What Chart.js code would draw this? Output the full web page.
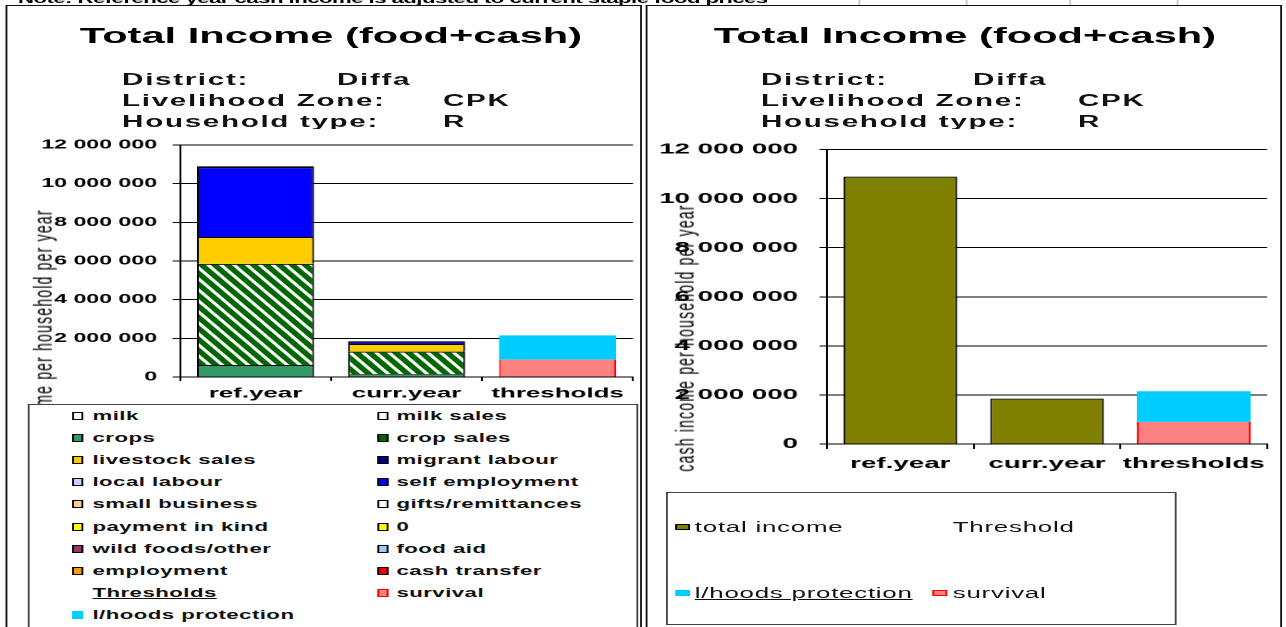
<!DOCTYPE html>
<html>
<head>
<meta charset="utf-8">
<title>Total Income (food+cash)</title>
<script src="https://cdn.jsdelivr.net/npm/chart.js@4.4.1/dist/chart.umd.min.js"></script>
<style>
  html, body { margin: 0; padding: 0; background: #fff; overflow: hidden; }
  body { width: 1286px; height: 627px; position: relative; font-family: 'Liberation Sans', Arial, sans-serif; color: #000; }
  /* the screenshot is stretched sideways, so the page is laid out narrow and widened */
  #stage { position: absolute; left: 0; top: 0; width: 695px; height: 627px; transform: scaleX(1.85); transform-origin: 0 0; }
  .abs { position: absolute; white-space: nowrap; }
  .panel { position: absolute; top: 5px; height: 640px; box-sizing: border-box; border: 1px solid #111; border-top-width: 1.5px; background: #fff; }
  .cell { position: absolute; top: 0; width: 0.55px; height: 5px; background: #c8c8c8; }
  .note { left: 9.7px; top: -7px; font-size: 12px; line-height: 12px; font-weight: bold; letter-spacing: -0.3px; }
  .title { top: 25px; font-size: 22.5px; font-weight: bold; line-height: 22px; transform: translateX(-50%); }
  .hdr { font-size: 16px; font-weight: bold; line-height: 21px; letter-spacing: 0.9px; color: #111; }
  .chartbox { position: absolute; background: #fff; }
  .ytitle { position: absolute; font-size: 14px; line-height: 16px; letter-spacing: 1.2px; white-space: nowrap; transform: translate(-50%, -50%) rotate(-90deg); }
  .legend { position: absolute; box-sizing: border-box; border: 1px solid #444; background: #fff; }
  .sw { position: absolute; box-sizing: border-box; }
  .lt { position: absolute; white-space: nowrap; }
  .left-lg .lt { font-size: 12px; line-height: 12px; font-weight: bold; letter-spacing: 0.25px; color: #111; }
  .right-lg .lt { font-size: 14px; line-height: 16px; letter-spacing: 0.4px; color: #111; }
  .u { text-decoration: underline; }
</style>
</head>
<body>
<div id="stage">
  <div class="abs note">Note: Reference year cash income is adjusted to current staple food prices</div>
  <div class="cell" style="left:463.8px"></div>
  <div class="cell" style="left:521.6px"></div>
  <div class="cell" style="left:578.4px"></div>
  <div class="cell" style="left:636.2px"></div>

  <div class="panel" style="left:3px;width:343.5px"></div>
  <div class="panel" style="left:348.6px;width:344.9px"></div>

  <div class="abs title" style="left:178.9px">Total Income (food+cash)</div>
  <div class="abs hdr" style="left:66px;top:69px">District:</div>
  <div class="abs hdr" style="left:182.2px;top:69px">Diffa</div>
  <div class="abs hdr" style="left:66px;top:90px">Livelihood Zone:</div>
  <div class="abs hdr" style="left:239.5px;top:90px">CPK</div>
  <div class="abs hdr" style="left:66px;top:111px">Household type:</div>
  <div class="abs hdr" style="left:239.5px;top:111px">R</div>

  <div class="abs title" style="left:521.6px">Total Income (food+cash)</div>
  <div class="abs hdr" style="left:411.4px;top:69px">District:</div>
  <div class="abs hdr" style="left:526px;top:69px">Diffa</div>
  <div class="abs hdr" style="left:411.4px;top:90px">Livelihood Zone:</div>
  <div class="abs hdr" style="left:582.7px;top:90px">CPK</div>
  <div class="abs hdr" style="left:411.4px;top:111px">Household type:</div>
  <div class="abs hdr" style="left:582.7px;top:111px">R</div>

  <div class="chartbox" style="left:12px;top:129px;width:332px;height:281px"><canvas id="foodCash"></canvas></div>
  <div class="chartbox" style="left:355px;top:129px;width:335px;height:351px"><canvas id="cashOnly"></canvas></div>

  <div class="ytitle" style="left:23.2px;top:343px">cash income per household per year</div>
  <div class="ytitle" style="left:370.3px;top:338px">cash income per household per year</div>

  <div class="legend left-lg" id="legendLeft" style="left:14.6px;top:404px;width:330px;height:240px"></div>
  <div class="legend right-lg" id="legendRight" style="left:359.5px;top:492px;width:276.2px;height:133px"></div>
</div>

<script>
const categories = ['ref.year', 'curr.year', 'thresholds'];

// income sources, stacked bottom to top
const milk = [0, 0, 0];
const milkSales = [0, 0, 0];
const crops = [620000, 140000, 0];
const cropSales = [5230000, 1170000, 0];
const livestockSales = [1390000, 400000, 0];
const migrantLabour = [0, 0, 0];
const localLabour = [0, 0, 0];
const selfEmployment = [3660000, 140000, 0];
const smallBusiness = [0, 0, 0];
const giftsRemittances = [0, 0, 0];
const paymentInKind = [0, 0, 0];
const zeroSeries = [0, 0, 0];
const wildFoods = [0, 0, 0];
const foodAid = [0, 0, 0];
const employment = [0, 0, 0];
const cashTransfer = [0, 0, 0];

// thresholds
const survival = [0, 0, 900000];
const livelihoodsProtection = [0, 0, 1250000];

// right chart
const totalIncome = [10900000, 1850000, 0];

const yMax = 12000000;
const yStep = 2000000;

const fills = {
  'milk': '#ffffff',
  'milk sales': '#ffffff',
  'crops': '#339966',
  'crop sales': '#006600',
  'livestock sales': '#ffcc00',
  'migrant labour': '#000080',
  'local labour': '#ccccff',
  'self employment': '#0000ff',
  'small business': '#ffcc99',
  'gifts/remittances': '#ffffff',
  'payment in kind': '#ffff00',
  '0': '#ffff00',
  'wild foods/other': '#993366',
  'food aid': '#99ccff',
  'employment': '#ff9900',
  'cash transfer': '#ee0000',
  'survival': '#ff8080',
  'l/hoods protection': '#00ccff',
  'total income': '#808000'
};

const sources = [
  ['milk', milk],
  ['milk sales', milkSales],
  ['crops', crops],
  ['crop sales', cropSales],
  ['livestock sales', livestockSales],
  ['migrant labour', migrantLabour],
  ['local labour', localLabour],
  ['self employment', selfEmployment],
  ['small business', smallBusiness],
  ['gifts/remittances', giftsRemittances],
  ['payment in kind', paymentInKind],
  ['0', zeroSeries],
  ['wild foods/other', wildFoods],
  ['food aid', foodAid],
  ['employment', employment],
  ['cash transfer', cashTransfer]
];

Chart.defaults.font.family = "'Liberation Sans', Arial, sans-serif";

// dark green with white diagonal stripes, like the crop sales fill
function hatch() {
  const w = 7, h = 11, k = 2;
  const c = document.createElement('canvas');
  c.width = w * k;
  c.height = h * k;
  const g = c.getContext('2d');
  g.scale(k, k);
  g.fillStyle = '#006600';
  g.fillRect(0, 0, w, h);
  g.strokeStyle = '#ffffff';
  g.lineWidth = 2.2;
  for (const x0 of [-w, 0, w]) {
    g.beginPath();
    g.moveTo(x0 - w, -h);
    g.lineTo(x0 + 2 * w, 2 * h);
    g.stroke();
  }
  const p = g.createPattern(c, 'repeat');
  p.setTransform(new DOMMatrix().scale(1 / k));
  return p;
}

const fmt = (v) => String(v).replace(/\B(?=(\d{3})+(?!\d))/g, ' ');

function thresholdSets() {
  return [
    {
      label: 'survival',
      data: survival,
      backgroundColor: fills['survival'],
      borderColor: '#ff0000',
      borderWidth: { top: 0, left: 1, right: 1, bottom: 0 }
    },
    {
      label: 'l/hoods protection',
      data: livelihoodsProtection,
      backgroundColor: fills['l/hoods protection'],
      borderWidth: 0
    }
  ];
}

function axes(o) {
  return {
    x: {
      stacked: true,
      grid: { offset: true, drawOnChartArea: false, color: '#000', tickLength: o.xTick },
      border: { color: '#000', width: 1 },
      ticks: { color: '#000', font: { size: o.xFont, weight: 'bold' }, padding: o.xPad, maxRotation: 0 },
      afterFit: (s) => { s.height = o.xHeight; }
    },
    y: {
      stacked: true,
      min: 0,
      max: yMax,
      grid: { color: '#000', tickLength: 4 },
      border: { color: '#000', width: 1 },
      ticks: { stepSize: yStep, color: '#000', font: { size: o.yFont, weight: 'bold' }, padding: o.yPad, callback: fmt },
      afterFit: (s) => { s.width = o.yWidth; }
    }
  };
}

function makeChart(id, datasets, o) {
  return new Chart(document.getElementById(id), {
    type: 'bar',
    data: { labels: categories, datasets: datasets },
    options: {
      responsive: true,
      maintainAspectRatio: false,
      animation: false,
      devicePixelRatio: 2,
      datasets: { bar: { barPercentage: 0.775, categoryPercentage: 1 } },
      layout: { padding: { top: o.padTop, right: o.padRight, left: 0, bottom: 0 } },
      plugins: { legend: { display: false }, tooltip: { enabled: false }, title: { display: false } },
      scales: axes(o)
    }
  });
}

const stripes = hatch();
const leftSets = sources.map(([label, data]) => ({
  label: label,
  data: data,
  backgroundColor: label === 'crop sales' ? stripes : fills[label],
  borderColor: '#000',
  borderWidth: label === 'self employment' ? { top: 2, left: 1, right: 1, bottom: 0 } : 1
})).concat(thresholdSets());

makeChart('foodCash', leftSets, {
  padTop: 16, padRight: 1.8, yWidth: 85.3, xHeight: 33,
  xFont: 14, xTick: 4, xPad: 4, yFont: 12.5, yPad: 8.4
});

const rightSets = [{
  label: 'total income',
  data: totalIncome,
  backgroundColor: fills['total income'],
  borderColor: '#000',
  borderWidth: 1
}].concat(thresholdSets());

makeChart('cashOnly', rightSets, {
  padTop: 17, padRight: 2.4, yWidth: 92, xHeight: 36,
  xFont: 15, xTick: 5, xPad: 6, yFont: 15, yPad: 11.6
});

// html legends
function addEntry(box, sx, tx, cy, label, swatch, o) {
  if (swatch) {
    const s = document.createElement('div');
    s.className = 'sw';
    s.style.left = sx + 'px';
    s.style.top = (cy - o.swH / 2) + 'px';
    s.style.width = o.swW + 'px';
    s.style.height = o.swH + 'px';
    s.style.background = swatch.fill;
    s.style.border = swatch.border ? '1px solid ' + swatch.border : 'none';
    box.appendChild(s);
  }
  const t = document.createElement('div');
  t.className = 'lt' + (o.underline ? ' u' : '');
  t.style.left = tx + 'px';
  t.style.top = (cy - o.lineH / 2) + 'px';
  t.textContent = label;
  box.appendChild(t);
}

const legendLeft = document.getElementById('legendLeft');
const leftNames = sources.map((s) => s[0]).concat(['Thresholds', 'survival', 'l/hoods protection']);
leftNames.forEach((name, i) => {
  const row = Math.floor(i / 2);
  const col = i % 2;
  const sx = col === 0 ? 23.8 : 188.1;
  const cy = 11 + row * 22.1;
  let swatch = { fill: fills[name], border: '#000' };
  if (name === 'Thresholds') swatch = null;
  if (name === 'survival') swatch.border = '#ff0000';
  if (name === 'l/hoods protection') swatch.border = null;
  addEntry(legendLeft, sx, sx + 10.6, cy, name, swatch,
    { swW: 6, swH: 8, lineH: 12, underline: name === 'Thresholds' });
});

const legendRight = document.getElementById('legendRight');
const ro = { swW: 8, swH: 6, lineH: 16 };
addEntry(legendRight, 4.8, 15.1, 34, 'total income', { fill: fills['total income'], border: '#000' }, ro);
addEntry(legendRight, 143.2, 154.5, 34, 'Threshold', null, ro);
addEntry(legendRight, 4.8, 15.1, 100, 'l/hoods protection', { fill: fills['l/hoods protection'], border: null },
  { swW: 8, swH: 6, lineH: 16, underline: true });
addEntry(legendRight, 143.2, 154.5, 100, 'survival', { fill: fills['survival'], border: '#ff0000' }, ro);
</script>
</body>
</html>
